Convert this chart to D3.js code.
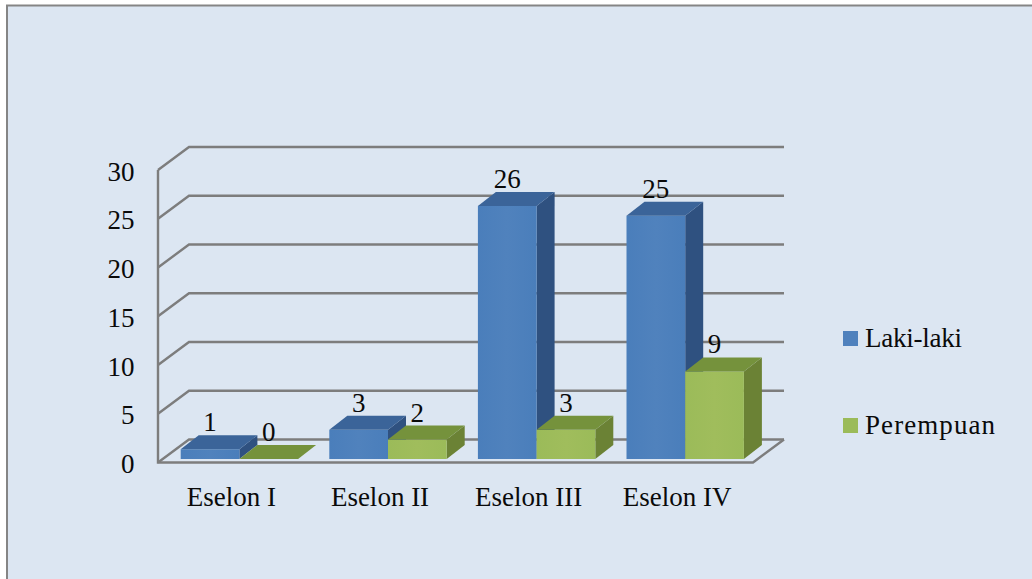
<!DOCTYPE html>
<html><head><meta charset="utf-8">
<script src="https://cdnjs.cloudflare.com/ajax/libs/d3/7.8.5/d3.min.js"></script>
<style>html,body{margin:0;padding:0;background:#fff}svg{display:block}text{font-family:"Liberation Serif",serif;fill:#0a0a0a}</style>
</head><body><div id="c"></div>
<script>
const categories=["Eselon I","Eselon II","Eselon III","Eselon IV"];
const seriesNames=["Laki-laki","Perempuan"];
const lakiLaki=[1,3,26,25];
const perempuan=[0,2,3,9];
const yTicks=[0,5,10,15,20,25,30];
const W=1032,H=579;
const svg=d3.select("#c").append("svg").attr("width",W).attr("height",H);
svg.append("rect").attr("x",7).attr("y",5.5).attr("width",W).attr("height",H).attr("fill","#dce6f2").attr("stroke","#858585").attr("stroke-width",2);
const defs=svg.append("defs");
function grad(id,stops){const g=defs.append("linearGradient").attr("id",id);stops.forEach(([o,c])=>g.append("stop").attr("offset",o).attr("stop-color",c));}
grad("gb",[[0,"#4a7ebb"],[.5,"#5082bd"],[1,"#4a7ebb"]]);
grad("gg",[[0,"#9bbb59"],[.5,"#a0bd5c"],[1,"#9bbb59"]]);
const wallDx=31,wallDy=-23,barDx=18,barDy=-14;
const y=d3.scaleLinear().domain([0,30]).range([462.5,170]);
const yBar=d3.scaleLinear().domain([0,30]).range([459,167]);
const x0=d3.scaleBand().domain(categories).range([165.1,759.5]).paddingInner(.21).paddingOuter(.105);
const x1=d3.scaleBand().domain(seriesNames).range([0,x0.bandwidth()]);
const axisL=158,axisR=753;
const grid=svg.append("g").attr("fill","none").attr("stroke","#7d7d7d").attr("stroke-width",2.4);
yTicks.forEach(t=>{grid.append("path").attr("d",d3.line()([[axisL,y(t)],[axisL+wallDx,y(t)+wallDy],[axisR+wallDx,y(t)+wallDy]]));});
grid.append("path").attr("d",d3.line()([[axisL,y(30)],[axisL,y(0)],[axisR,y(0)],[axisR+wallDx,y(0)+wallDy]]));
const styles=[{f:"url(#gb)",top:"#3b6499",side:"#2f5180"},{f:"url(#gg)",top:"#75923c",side:"#6b8235"}];
const labels=[];
categories.forEach((c,i)=>{
  [lakiLaki[i],perempuan[i]].forEach((v,j)=>{
    const xa=x0(c)+x1(seriesNames[j]),w=x1.bandwidth(),yt=yBar(v),yb=yBar(0),s=styles[j];
    const line=d3.line();
    svg.append("path").attr("d",line([[xa+w,yt],[xa+w+barDx,yt+barDy],[xa+w+barDx,yb+barDy],[xa+w,yb]])+"Z").attr("fill",s.side);
    if(v>0)svg.append("rect").attr("x",xa).attr("y",yt).attr("width",w).attr("height",yb-yt).attr("fill",s.f);
    svg.append("path").attr("d",line([[xa,yt],[xa+barDx,yt+barDy],[xa+w+barDx,yt+barDy],[xa+w,yt]])+"Z").attr("fill",s.top);
    labels.push({v,x:xa+w/2,y:yt-18});
  });
});
const fs=27;
svg.selectAll(".dl").data(labels).join("text").attr("class","dl").attr("x",d=>d.x).attr("y",d=>d.y).attr("text-anchor","middle").attr("font-size",fs).text(d=>d.v);
svg.selectAll(".yt").data(yTicks).join("text").attr("class","yt").attr("x",134.5).attr("y",d=>y(d)+10.5).attr("text-anchor","end").attr("font-size",fs).text(d=>d);
svg.selectAll(".ct").data(categories).join("text").attr("class","ct").attr("x",d=>x0(d)+x0.bandwidth()/2-8).attr("y",506).attr("text-anchor","middle").attr("font-size",fs).text(d=>d);
const color=["#4f81bd","#9bbb59"],legY=[338.5,425.5],legLen=[97,130];
seriesNames.forEach((n,i)=>{
  svg.append("rect").attr("x",843).attr("y",legY[i]-7.5).attr("width",15).attr("height",15).attr("fill",color[i]);
  svg.append("text").attr("x",865).attr("y",legY[i]+8.5).attr("font-size",fs).attr("textLength",legLen[i]).attr("lengthAdjust","spacing").text(n);
});
</script></body></html>
